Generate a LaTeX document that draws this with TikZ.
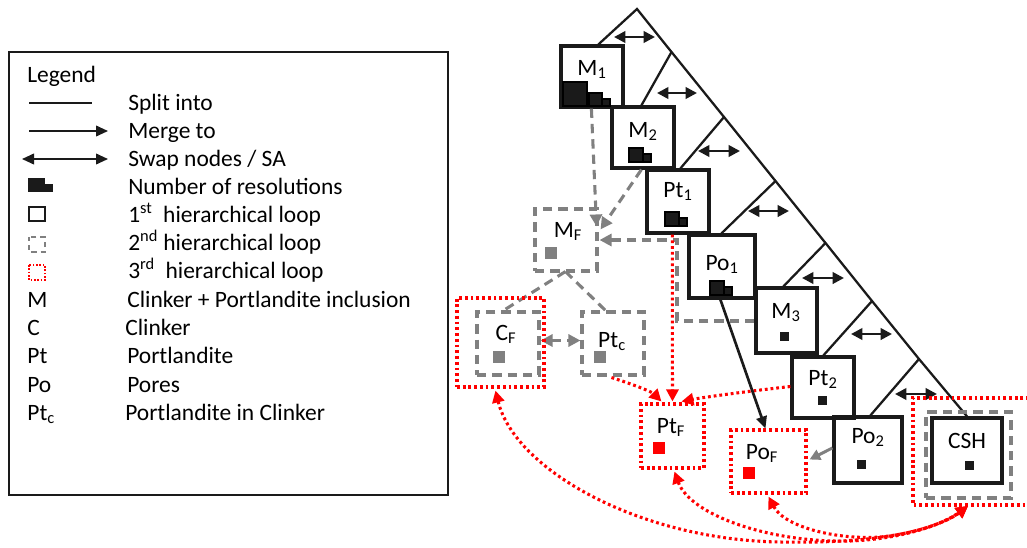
\documentclass[tikz,border=0pt]{standalone}
\usepackage{fontspec}
\setmainfont{Carlito}
\usetikzlibrary{arrows.meta,fit,calc}
\definecolor{dgray}{HTML}{808080}
\definecolor{ink}{HTML}{1A1A1A}
\newcommand\nfont{\fontsize{17.6}{20}\selectfont}
\newcommand\sbs[1]{\textsubscript{#1}}
\begin{document}
\begin{tikzpicture}[x=0.75pt,y=-0.75pt,
 lvone/.style={draw=ink,line width=2.4pt,inner sep=0pt},
 lvtwo/.style={draw=dgray,line width=2.3pt,dash pattern=on 7pt off 4.5pt,inner sep=0pt},
 lvthree/.style={draw=red,line width=2.3pt,dash pattern=on 2.1pt off 2.2pt,inner sep=0pt},
 tree/.style={draw=ink,line width=1.7pt},
 swaparrow/.style={draw=ink,line width=2pt,{Triangle[length=8.5pt,width=8.5pt]}-{Triangle[length=8.5pt,width=8.5pt]}},
 grayline/.style={draw=dgray,line width=2.3pt,dash pattern=on 7pt off 4.5pt},
 grayarrow/.style={grayline,-{Triangle[length=9pt,width=9pt]}},
 grayswap/.style={grayline,{Triangle[length=9pt,width=9pt]}-{Triangle[length=9pt,width=9pt]}},
 redline/.style={draw=red,line width=2.3pt,dash pattern=on 2.1pt off 2.2pt},
 redarrow/.style={redline,-{Triangle[length=9pt,width=9pt]}},
 redswap/.style={redline,{Triangle[length=9pt,width=9pt]}-{Triangle[length=9pt,width=9pt]}},
 lbl/.style={font=\nfont,anchor=base,inner sep=0pt},
 legtext/.style={font=\nfont,anchor=base west,inner sep=0pt},
 res/.style={fill=ink,draw=black,line width=0.9pt},
 resg/.style={fill=dgray},
 resr/.style={fill=red},
]
\useasboundingbox (0,0) rectangle (1027,547);

% ---------------- Legend ----------------
\node[fit={(9,52) (448,495)},draw=ink,line width=1.8pt,inner sep=0pt] (legend) {};
\node[legtext] (lg0) at (27,82) {Legend};
\draw[ink,line width=1pt] (29,103) -- (92,103);
\node[legtext] (lg1) at (128,110) {Split into};
\draw[ink,line width=1.3pt,-{Triangle[length=9pt,width=8pt]}] (29,131) -- (108,131);
\node[legtext] (lg2) at (128,138) {Merge to};
\draw[ink,line width=1.3pt,{Triangle[length=9pt,width=8pt]}-{Triangle[length=9pt,width=8pt]}] (22,159) -- (108,159);
\node[legtext] (lg3) at (128,166) {Swap nodes / SA};
\fill[ink] (28,178) rectangle (45,192);
\fill[ink] (45,184) rectangle (53,192);
\node[legtext] (lg4) at (128,194) {Number of resolutions};
\draw[ink,line width=1.5pt] (29,207) rectangle (45,221);
\node[legtext] (lg5) at (128,222) {1\textsuperscript{st}\ \ hierarchical loop};
\draw[dgray,line width=1.5pt,dash pattern=on 4pt off 3pt,dash phase=1pt] (29,237) rectangle (45,252);
\node[legtext] (lg6) at (128,250) {2\textsuperscript{nd} hierarchical loop};
\draw[red,line width=1.5pt,dash pattern=on 1.2pt off 1.3pt] (29,265) rectangle (45,280);
\node[legtext] (lg7) at (128,278) {3\textsuperscript{rd}\ \ hierarchical loop};
\node[legtext] (lk1) at (27,307) {M};
\node[legtext] (lv1) at (127,307) {Clinker + Portlandite inclusion};
\node[legtext] (lk2) at (27,335) {C};
\node[legtext] (lv2) at (125,335) {Clinker};
\node[legtext] (lk3) at (27,363) {Pt};
\node[legtext] (lv3) at (127,363) {Portlandite};
\node[legtext] (lk4) at (27,392) {Po};
\node[legtext] (lv4) at (127,392) {Pores};
\node[legtext] (lk5) at (27,420) {Pt\sbs{c}};
\node[legtext] (lv5) at (125,420) {Portlandite in Clinker};

% ---------------- Tree (1st loop) ----------------
\coordinate (apex) at (637,9);
\coordinate (b1) at (671.5,52);
\coordinate (b2) at (724,117);
\coordinate (b3) at (775.5,181);
\coordinate (b4) at (825.5,243);
\coordinate (b5) at (872,301);
\coordinate (b6) at (919,359);

\node[fit={(561,46) (623,107)},lvone] (m1) {};
\node[fit={(612,107) (674,168)},lvone] (m2) {};
\node[fit={(647,170) (709,233)},lvone] (pt1) {};
\node[fit={(689,235) (755,298)},lvone] (po1) {};
\node[fit={(756,288) (817,353)},lvone] (m3) {};
\node[fit={(792,357) (854,418)},lvone] (pt2) {};
\node[fit={(834,417) (902,483)},lvone] (po2) {};
\node[fit={(932,418) (1002,483)},lvone] (csh) {};

\draw[tree] ($(m1.north west)+(39,0)$) -- (apex) -- (b1) -- (b2) -- (b3) -- (b4) -- (b5) -- (b6) -- (csh.north);
\draw[tree] (b1) -- ($(m2.north west)+(31,0)$);
\draw[tree] (b2) -- ($(pt1.north west)+(35,0)$);
\draw[tree] (b3) -- ($(po1.north west)+(34,0)$);
\draw[tree] (b4) -- ($(m3.north west)+(29,0)$);
\draw[tree] (b5) -- ($(pt2.north west)+(33,0)$);
\draw[tree] (b6) -- ($(po2.north west)+(38,0)$);

\draw[swaparrow] (614,37) -- (655,37);
\draw[swaparrow] (657,93) -- (697,93);
\draw[swaparrow] (698,151) -- (740,151);
\draw[swaparrow] (748,211) -- (789,211);
\draw[swaparrow] (802,278) -- (844,278);
\draw[swaparrow] (851,334) -- (892,334);
\draw[swaparrow] (895,394) -- (937,394);

\node[lbl] (m1l) at (592,75) {M\sbs{1}};
\node[lbl] (m2l) at (643,137) {M\sbs{2}};
\node[lbl] (pt1l) at (678,197) {Pt\sbs{1}};
\node[lbl] (po1l) at (722,270) {Po\sbs{1}};
\node[lbl] (m3l) at (786,318) {M\sbs{3}};
\node[lbl] (pt2l) at (823,385) {Pt\sbs{2}};
\node[lbl] (po2l) at (868,443) {Po\sbs{2}};
\node[lbl] (cshl) at (967,448) {CSH};

% resolution icons
\filldraw[res] (563,82) rectangle (587,106);
\filldraw[res] (589,93) rectangle (602,106);
\filldraw[res] (602,99) rectangle (610,106);
\filldraw[res] (629,148) rectangle (643,162);
\filldraw[res] (643,154) rectangle (651,162);
\filldraw[res] (665,212) rectangle (679,226);
\filldraw[res] (679,218) rectangle (687,226);
\filldraw[res] (710,281) rectangle (724,295);
\filldraw[res] (724,287) rectangle (732,295);
\fill[ink] (780,332) rectangle (789,341);
\fill[ink] (818,396) rectangle (827,405);
\fill[ink] (857,460) rectangle (866,469);
\fill[ink] (965,461) rectangle (974,470);

% ---------------- 2nd loop ----------------
\node[fit={(535,209) (597,271)},lvtwo] (mf) {};
\node[fit={(477,312) (539,375)},lvtwo] (cf) {};
\node[fit={(582,312) (644,375)},lvtwo] (ptc) {};
\node[fit={(926,412) (1011,498)},lvtwo] (cshg) {};
\node[lbl] (mfl) at (568,237) {M\sbs{F}};
\node[lbl] (cfl) at (506,340) {C\sbs{F}};
\node[lbl] (ptcl) at (612,347) {Pt\sbs{c}};
\fill[resg] (545,247) rectangle (557,259);
\fill[resg] (493,351) rectangle (505,363);
\fill[resg] (594,351) rectangle (606,363);

\draw[grayarrow] ($(m1.south west)+(32,0)$) -- ($(mf.north east)+(-2,19)$);
\draw[grayarrow] ($(m2.south west)+(31,0)$) -- ($(mf.north east)+(2,22)$);
\draw[grayarrow] ($(m3.west)+(0,0.5)$) -- (677,321) -- (677,240) -- ($(mf.east)+(1,0)$ |- 0,240);
\draw[grayline] ($(mf.south west)+(32,-1)$) -- ($(cf.north west)+(28,0)$);
\draw[grayline] ($(mf.south west)+(32,-1)$) -- ($(ptc.north west)+(25,0)$);
\draw[grayswap] ($(cf.east)+(0,-3)$) -- ($(ptc.west)+(0,-3)$);

% ---------------- 3rd loop ----------------
\node[fit={(457,298) (544,387)},lvthree] (cfr) {};
\node[fit={(641,404) (704,468)},lvthree] (ptf) {};
\node[fit={(731,430) (806,493)},lvthree] (pof) {};
\coordinate (cshra) at (1029,398);
\coordinate (cshrb) at (1029,505);
\draw[redline] (cshra) -- (913,398) -- (913,505) -- (cshrb);
\coordinate (cshr) at (968,506);
\node[lbl] (ptfl) at (671,433) {Pt\sbs{F}};
\node[lbl] (pofl) at (762,459) {Po\sbs{F}};
\fill[resr] (653,442) rectangle (665,454);
\fill[resr] (743,467) rectangle (755,479);

\draw[redarrow] ($(pt1.south west)+(27,0)$) -- ($(ptf.north west)+(33,-1)$);
\draw[redarrow] ($(ptc.south west)+(31,1)$) .. controls (635,385) and (652,392) .. ($(ptf.north west)+(22,-1)$);
\draw[redarrow] ($(pt2.west)+(0,-1)$) .. controls (750,391) and (705,397) .. ($(ptf.north west)+(42,-1)$);

\draw[redswap] ($(cfr.south west)+(40,2)$) .. controls (515,470) and (640,540) .. (780,542) .. controls (880,544) and (935,530) .. (cshr);
\draw[redswap] ($(ptf.south west)+(35,2)$) .. controls (690,515) and (770,543) .. (850,541) .. controls (905,539) and (945,523) .. (cshr);
\draw[redswap] ($(pof.south west)+(39,2)$) .. controls (785,528) and (840,540) .. (880,537) .. controls (920,533) and (950,520) .. (cshr);

% merges to pores
\draw[ink,line width=2pt,-{Triangle[length=9pt,width=8pt]}] ($(po1.south west)+(33,0)$) -- ($(pof.north west)+(36,0)$);
\draw[dgray,line width=2.2pt,-{Triangle[length=8pt,width=8pt]}] ($(po2.west)+(0,-2)$) -- ($(pof.east)+(2,-2)$);

\end{tikzpicture}
\end{document}
